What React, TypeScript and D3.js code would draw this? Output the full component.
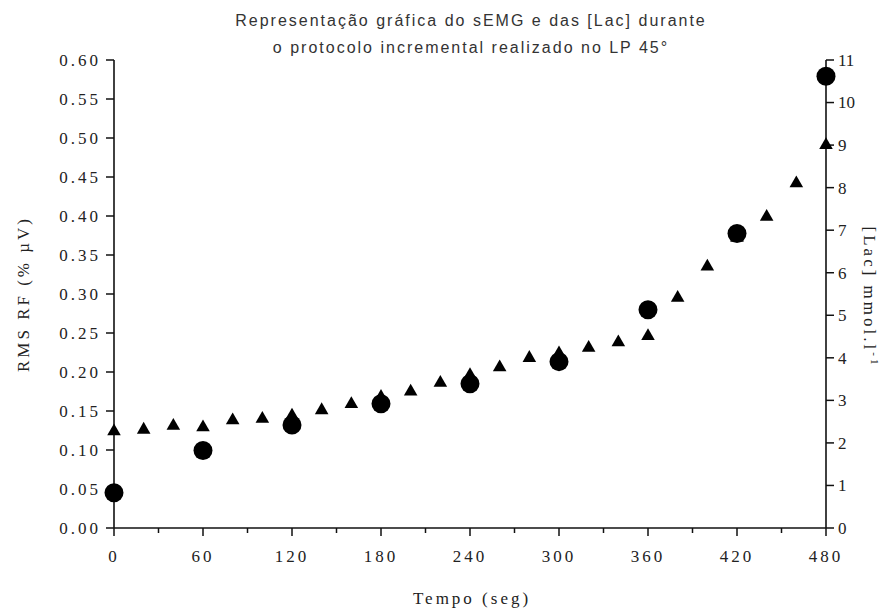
import React from "react";
import * as d3 from "d3";

// Time points (s)
const emgTimes = [0, 20, 40, 60, 80, 100, 120, 140, 160, 180, 200, 220, 240, 260, 280, 300, 320, 340, 360, 380, 400, 420, 440, 460, 480];
// RMS of rectus femoris (% µV), left axis
const emgRms = [0.124, 0.126, 0.131, 0.129, 0.138, 0.140, 0.144, 0.151, 0.159, 0.168, 0.175, 0.186, 0.196, 0.206, 0.218, 0.224, 0.231, 0.238, 0.246, 0.295, 0.335, 0.372, 0.399, 0.442, 0.491];

const lacTimes = [0, 60, 120, 180, 240, 300, 360, 420, 480];
// Blood lactate (mmol/l), right axis
const lacValues = [0.83, 1.82, 2.42, 2.92, 3.39, 3.91, 5.13, 6.92, 10.62];

const xMajorTicks = [0, 60, 120, 180, 240, 300, 360, 420, 480];
const xMinorTicks = [30, 90, 150, 210, 270, 330, 390, 450];
const leftTicks = [0, 0.05, 0.1, 0.15, 0.2, 0.25, 0.3, 0.35, 0.4, 0.45, 0.5, 0.55, 0.6];
const rightTicks = [0, 1, 2, 3, 4, 5, 6, 7, 8, 9, 10, 11];

const titleLines = ["Representação gráfica do sEMG e das [Lac] durante", "o protocolo incremental realizado no LP 45°"];

const W = 895;
const H = 614;
const left = 114;
const right = 826;
const top = 60;
const bottom = 528;

export default function App() {
  const x = d3.scaleLinear().domain([0, 480]).range([left, right]);
  const yL = d3.scaleLinear().domain([0, 0.6]).range([bottom, top]);
  const yR = d3.scaleLinear().domain([0, 11]).range([bottom, top]);

  const tri = d3.symbol().type(d3.symbolTriangle).size(80)() as string;
  const circ = d3.symbol().type(d3.symbolCircle).size(Math.PI * 9.5 * 9.5)() as string;

  const serif = "'Liberation Serif', 'Times New Roman', serif";
  const sans = "'Liberation Sans', Arial, sans-serif";
  const axisColor = "#111";
  const textColor = "#222";

  return (
    <svg width={W} height={H} style={{ position: "absolute", left: 0, top: 0, background: "#fff" }}>
      {/* Title */}
      <g fontFamily={sans} fontSize={16} fill="#333" textAnchor="middle" letterSpacing={2}>
        <text x={471} y={26}>{titleLines[0]}</text>
        <text x={471} y={53}>{titleLines[1]}</text>
      </g>

      {/* Axes lines */}
      <g stroke={axisColor} strokeWidth={1.6} fill="none">
        <line x1={left} y1={top} x2={left} y2={bottom} />
        <line x1={right} y1={top} x2={right} y2={bottom} />
        <line x1={left} y1={bottom} x2={right} y2={bottom} />
      </g>

      {/* Left axis */}
      <g fontFamily={serif} fontSize={17} fill={textColor} letterSpacing={3}>
        {leftTicks.map((t) => (
          <g key={`l${t}`}>
            <line x1={left - 8} x2={left} y1={yL(t)} y2={yL(t)} stroke={axisColor} strokeWidth={1.5} />
            <text x={101} y={yL(t)} dy="0.35em" textAnchor="end">{d3.format(".2f")(t)}</text>
          </g>
        ))}
      </g>

      {/* Right axis */}
      <g fontFamily={serif} fontSize={17} fill={textColor}>
        {rightTicks.map((t) => (
          <g key={`r${t}`}>
            <line x1={right} x2={right + 8} y1={yR(t)} y2={yR(t)} stroke={axisColor} strokeWidth={1.5} />
            <text x={838} y={yR(t)} dy="0.35em" textAnchor="start">{t}</text>
          </g>
        ))}
      </g>

      {/* Bottom axis */}
      <g fontFamily={serif} fontSize={17} fill={textColor} letterSpacing={3}>
        {xMajorTicks.map((t) => (
          <g key={`x${t}`}>
            <line x1={x(t)} x2={x(t)} y1={bottom} y2={bottom + 8} stroke={axisColor} strokeWidth={1.5} />
            <text x={x(t)} y={562} textAnchor="middle">{t}</text>
          </g>
        ))}
        {xMinorTicks.map((t) => (
          <line key={`m${t}`} x1={x(t)} x2={x(t)} y1={bottom} y2={bottom + 5} stroke={axisColor} strokeWidth={1.5} />
        ))}
      </g>

      {/* Axis titles */}
      <text x={472} y={604} fontFamily={serif} fontSize={17} fill={textColor} textAnchor="middle" letterSpacing={3}>
        Tempo (seg)
      </text>
      <text
        transform={`translate(29, ${(top + bottom) / 2}) rotate(-90)`}
        fontFamily={serif}
        fontSize={17}
        fill={textColor}
        textAnchor="middle"
        letterSpacing={3}
      >
        RMS RF (% µV)
      </text>
      <text
        transform={`translate(864, ${(top + bottom) / 2 + 3}) rotate(90)`}
        fontFamily={serif}
        fontSize={17}
        fill={textColor}
        textAnchor="middle"
        letterSpacing={3}
      >
        [Lac] mmol.l<tspan dy={-7} fontSize={11}>-1</tspan>
      </text>

      {/* EMG RMS (triangles) */}
      <g fill="#000">
        {emgTimes.map((t, i) => (
          <path key={`t${t}`} d={tri} transform={`translate(${x(t)}, ${yL(emgRms[i])})`} />
        ))}
      </g>

      {/* Lactate (circles) */}
      <g fill="#000">
        {lacTimes.map((t, i) => (
          <path key={`c${t}`} d={circ} transform={`translate(${x(t)}, ${yR(lacValues[i])})`} />
        ))}
      </g>
    </svg>
  );
}
